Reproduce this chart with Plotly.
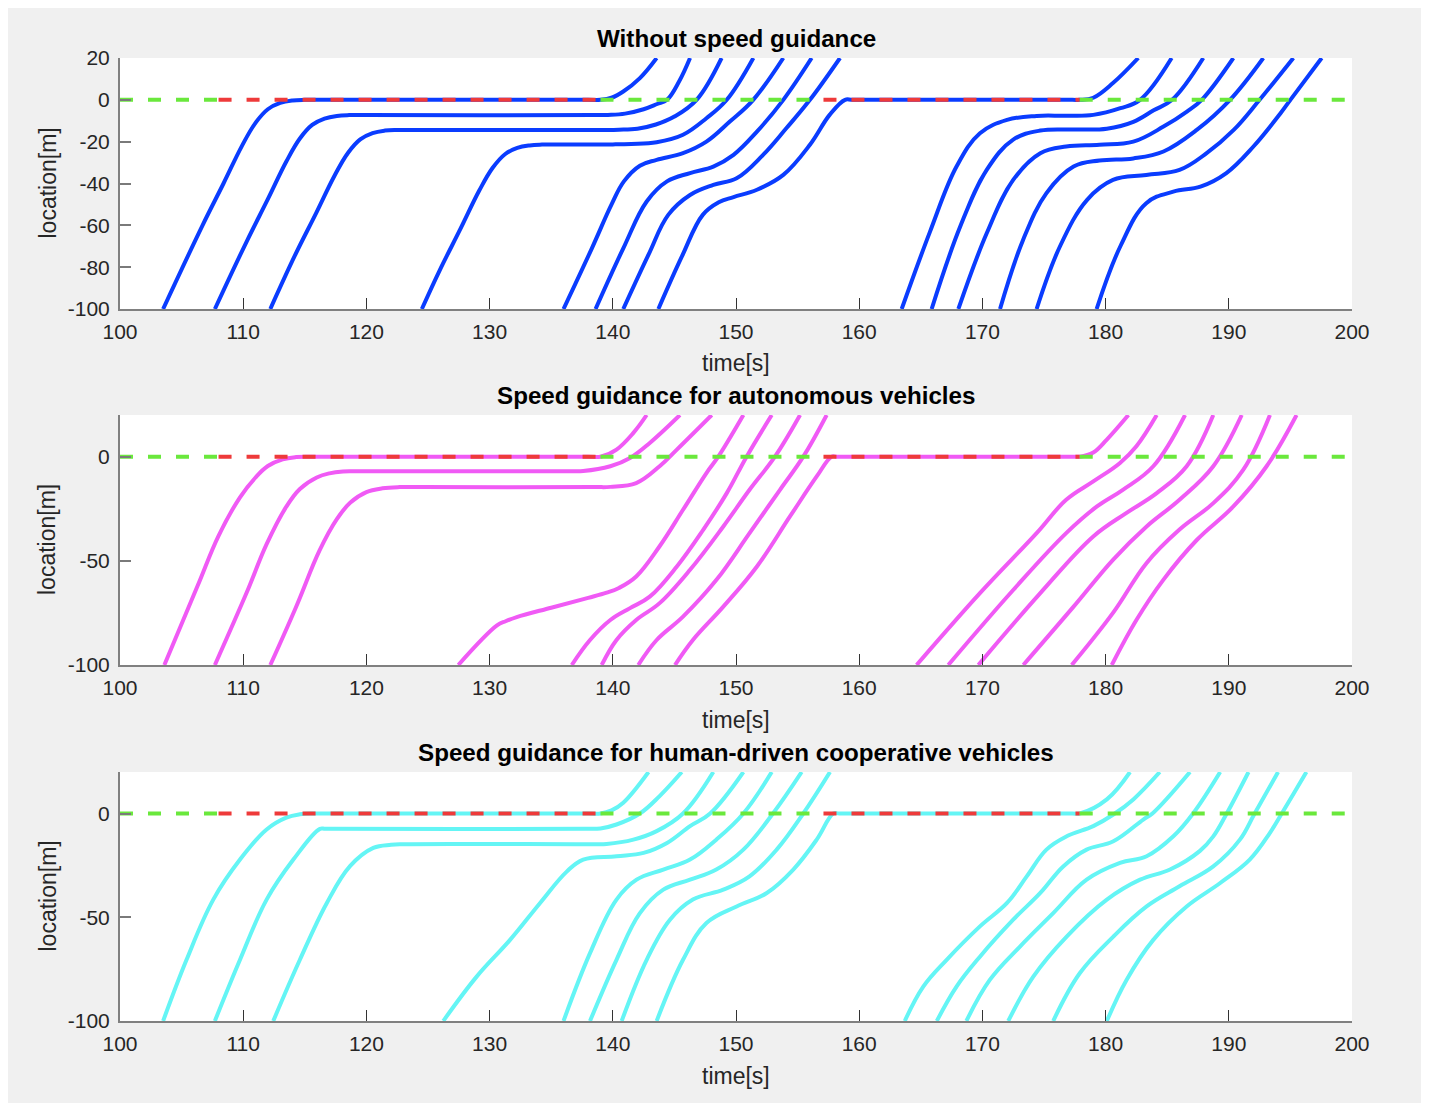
import plotly.graph_objects as go

# ---------------- data ----------------
X_TICKS = [100, 110, 120, 130, 140, 150, 160, 170, 180, 190, 200]
P1_Y_TICKS = [20, 0, -20, -40, -60, -80, -100]
P23_Y_TICKS = [0, -50, -100]

TITLES = ["Without speed guidance",
          "Speed guidance for autonomous vehicles",
          "Speed guidance for human-driven cooperative vehicles"]
X_LABEL = "time[s]"
Y_LABEL = "location[m]"

# signal phases at the stop line (location 0)
SIGNAL_SWITCH_T = [100, 108, 139, 157.1, 177.9, 200]
SIGNAL_PHASE = ["green", "red", "green", "red", "green"]

# vehicle trajectories: lists of (time, location)
BLUE_TRAJ = [
    [(103.5, -100), (106.7, -60), (108.4, -40), (109.9, -22), (111.0, -11), (112.0, -4.5), (113.0, -1.5),
     (114.0, -0.3), (115.0, 0), (116.0, 0), (138.0, 0), (139.0, 0), (139.9, 1), (140.85, 4), (142.2, 10.4), (143.56, 20)],
    [(107.7, -100), (110.3, -67.5), (112.0, -47.5), (113.5, -29.5), (114.6, -18.5), (115.6, -12), (116.6, -9),
     (117.6, -7.7), (118.6, -7.3), (120.0, -7.3), (138.5, -7.3), (139.6, -7.2), (141.0, -6.6), (142.5, -4.5),
     (143.6, -2), (144.4, 0), (145.4, 9), (146.27, 20)],
    [(112.2, -100), (114.2, -74.4), (115.9, -54.4), (117.4, -36.4), (118.5, -25.4), (119.5, -18.9), (120.5, -15.9),
     (121.5, -14.7), (122.5, -14.4), (124.0, -14.4), (139.0, -14.4), (140.5, -14.3), (142.0, -13.8), (143.5, -11.8),
     (145.0, -8), (146.8, 0), (148.83, 20)],
    [(124.5, -100), (125.95, -81.5), (127.65, -61.5), (129.15, -43.5), (130.25, -32.5), (131.25, -26), (132.25, -23),
     (133.25, -21.8), (134.25, -21.4), (136.0, -21.3), (140.0, -21.3), (141.5, -21.1), (143.56, -20.3),
     (145.7, -16.7), (147.6, -8.8), (149.25, 0), (151.41, 20)],
    [(136.0, -100), (138.3, -71), (139.9, -50), (140.9, -39), (142.2, -31.5), (143.56, -28.7), (145.7, -25.5),
     (147.6, -20), (149.5, -10.4), (151.4, 0), (153.84, 20)],
    [(138.6, -100), (140.85, -71), (142.75, -48.6), (144.4, -39), (146.27, -35), (148.16, -31.9), (149.8, -26.3),
     (151.7, -15.2), (153.84, 0), (156.14, 20)],
    [(140.85, -100), (142.9, -74), (144.5, -55), (146.27, -45.5), (148.16, -40.7), (150.05, -37.5), (152.2, -26.3),
     (154.1, -13.5), (156.0, 0), (158.44, 20)],
    [(143.7, -100), (145.6, -75), (147.3, -55), (148.6, -49), (149.8, -46.5), (151.7, -43), (153.84, -35.9),
     (156.0, -21.5), (157.6, -7.2), (158.85, 0), (159.5, 0), (177.3, 0), (177.9, 0), (179.0, 1), (180.6, 8),
     (182.65, 20)],
    [(163.45, -100), (165.75, -63), (167.9, -31.9), (169.8, -16), (172.0, -9.6), (174.4, -7.7), (176.8, -7.6),
     (179.0, -7.2), (181.2, -4), (182.8, 0), (185.36, 20)],
    [(165.88, -100), (168.2, -60.6), (170.35, -33.5), (172.5, -19), (174.7, -14.7), (177.4, -14.2), (180.1, -13.8),
     (182.25, -10.5), (183.9, -5), (185.4, 0), (187.93, 20)],
    [(168.05, -100), (170.35, -63.8), (172.5, -38.3), (174.7, -25.5), (176.8, -22.3), (179.5, -21.5), (182.25, -20),
     (184.7, -12.8), (186.6, -5.6), (187.8, 0), (190.37, 20)],
    [(171.43, -100), (173.3, -67), (175.2, -44.6), (177.4, -31.9), (179.5, -29), (182.25, -28), (184.7, -24.7),
     (187.4, -14.4), (190.1, 0), (192.8, 20)],
    [(174.4, -100), (176.3, -70), (178.5, -47.8), (180.6, -38.3), (183.3, -35.9), (186.0, -33.5), (188.2, -25.5),
     (190.4, -14.4), (192.5, 0), (195.24, 20)],
    [(179.27, -100), (181.2, -70), (183.3, -49.4), (185.5, -43.9), (187.7, -41.5), (189.8, -35), (192.0, -22.3),
     (194.2, -6.4), (195.0, 0), (197.54, 20)],
]

MAGENTA_TRAJ = [
    [(103.6, -100), (106.3, -62), (108.0, -38), (109.74, -19.5), (111.0, -10), (112.0, -4.5), (113.2, -1.3),
     (114.3, -0.2), (115.3, 0), (116.5, 0), (138.0, 0), (139.0, 0), (140.3, 3.4), (141.67, 11.4), (142.75, 20)],
    [(107.7, -100), (110.3, -65), (111.9, -42), (113.5, -24), (114.6, -15.5), (115.97, -10), (117.0, -8),
     (118.1, -7.1), (119.0, -7), (121.0, -7), (136.5, -7), (137.6, -6.9), (139.8, -4.6), (141.4, -0.6),
     (143.0, 6.6), (145.45, 20)],
    [(112.2, -100), (114.3, -72), (116.2, -45), (117.6, -30), (118.7, -22), (120.0, -17), (121.3, -15.2),
     (122.7, -14.6), (124.5, -14.6), (138.5, -14.6), (139.8, -14.5), (141.9, -12.7), (143.8, -4.6), (145.2, 3.4),
     (148.03, 20)],
    [(127.46, -100), (130.6, -81), (131.3, -79), (132.2, -77), (135.0, -72.5), (138.0, -67.8), (139.5, -65.3),
     (140.5, -63), (141.9, -57.5), (143.8, -43), (145.7, -25.5), (147.6, -7.85), (148.56, 0), (150.6, 20)],
    [(136.67, -100), (138.15, -88), (139.8, -78.4), (141.4, -72.7), (143.0, -67.2), (145.2, -52.7), (147.35, -35),
     (149.25, -17.5), (150.86, 0), (152.9, 20)],
    [(139.1, -100), (140.3, -88), (141.9, -78.4), (143.8, -70.3), (146.27, -54.3), (148.97, -33.5), (151.1, -15.9),
     (153.16, 0), (155.2, 20)],
    [(142.07, -100), (143.56, -88), (145.7, -76.8), (148.43, -59), (151.1, -36.7), (153.57, -15.9), (155.46, 0),
     (157.36, 20)],
    [(145.05, -100), (146.5, -88), (148.97, -72), (151.7, -52.7), (154.38, -28.7), (156.55, -9.5), (157.76, 0),
     (158.2, 0), (177.3, 0), (177.9, 0), (179.0, 2), (180.1, 8.2), (181.85, 20)],
    [(164.66, -100), (169.8, -65.5), (174.4, -36.7), (176.8, -20.7), (179.0, -11.9), (181.17, -3), (182.5, 5),
     (184.15, 20)],
    [(167.23, -100), (172.5, -64), (176.8, -36.7), (179.3, -23.9), (181.4, -15.9), (183.87, -4.6), (186.45, 20)],
    [(169.67, -100), (174.7, -65.5), (179.0, -38.3), (181.7, -27), (184.15, -17.5), (186.58, -4.6), (188.74, 20)],
    [(173.32, -100), (177.4, -72), (180.6, -49.5), (183.33, -33.5), (186.0, -20.7), (188.74, -4.6), (191.05, 20)],
    [(177.25, -100), (180.6, -75), (183.33, -51), (186.0, -35), (188.74, -22.3), (191.18, -6.25), (193.34, 20)],
    [(180.5, -100), (182.5, -78.4), (184.7, -59), (187.4, -40), (190.37, -23.9), (193.07, -4.6), (195.5, 20)],
]

CYAN_TRAJ = [
    [(103.5, -100), (105.4, -70.5), (107.57, -41.5), (109.74, -22.2), (111.9, -7.7), (113.5, -2), (114.6, -0.4),
     (115.7, 0), (117.0, 0), (138.0, 0), (139.0, 0), (139.9, 1.5), (140.85, 5.2), (142.9, 20)],
    [(107.7, -100), (109.74, -70.5), (111.9, -41.5), (114.07, -22.2), (116.23, -7.4), (116.7, -7.4), (137.8, -7.4),
     (139.0, -7.2), (140.3, -5.3), (142.2, 0), (143.8, 8.4), (145.6, 20)],
    [(112.44, -100), (114.6, -70.5), (116.8, -43), (118.67, -25.4), (120.56, -16.6), (122.0, -15.1), (123.0, -14.8),
     (138.3, -14.8), (139.5, -14.7), (141.67, -12.6), (143.56, -8.5), (145.7, 0), (148.16, 20)],
    [(126.24, -100), (128.95, -78.6), (131.66, -60.9), (134.1, -43.1), (136.26, -28), (137.6, -22.2), (140.3, -20.6),
     (142.5, -19), (144.4, -14.2), (146.27, -6.1), (147.9, 0), (150.6, 20)],
    [(136.0, -100), (138.15, -67.3), (140.3, -41.5), (141.93, -31.9), (144.1, -27), (146.27, -22.2), (148.4, -12.6),
     (150.6, 0), (152.9, 20)],
    [(138.15, -100), (140.3, -70.5), (142.2, -48), (144.1, -36.7), (146.27, -31.9), (148.4, -27), (150.6, -17.4),
     (153.0, 0), (155.33, 20)],
    [(140.72, -100), (142.75, -70.5), (144.64, -51.2), (146.5, -41.5), (148.97, -36.7), (151.1, -30.3),
     (153.3, -17.4), (155.46, 0), (157.63, 20)],
    [(143.56, -100), (145.7, -70.5), (147.6, -52.8), (150.05, -44.8), (152.5, -38.3), (154.65, -27), (156.55, -12.6),
     (157.9, 0), (158.4, 0), (177.3, 0), (177.9, 0), (180.1, 6.8), (181.98, 20)],
    [(163.7, -100), (165.2, -83.4), (167.1, -70.5), (169.8, -54.4), (172.0, -43.1), (173.6, -30.3), (175.2, -17.4),
     (176.84, -11), (179.0, -6.1), (180.63, -0.5), (182.25, 6.8), (184.4, 20)],
    [(166.3, -100), (167.9, -83.4), (169.8, -69), (172.5, -51.2), (174.7, -38.3), (176.56, -25.5), (178.46, -17.4),
     (180.63, -13.4), (183.06, -2.9), (183.8, 0), (186.85, 20)],
    [(168.7, -100), (170.6, -80.2), (173.05, -64.1), (175.75, -48), (178.46, -31.9), (181.17, -23.8),
     (183.33, -20.6), (185.5, -11), (187.1, 0), (189.3, 20)],
    [(172.1, -100), (174.13, -78.6), (176.84, -59.3), (180.1, -41.5), (182.8, -31.9), (185.23, -27), (187.66, -18),
     (188.74, -11), (189.83, 0), (191.6, 20)],
    [(175.75, -100), (177.9, -77), (180.63, -59.3), (183.33, -44.8), (186.0, -35.1), (188.74, -25.5), (190.9, -12.6),
     (192.1, 0), (194.0, 20)],
    [(180.1, -100), (181.7, -80.2), (183.87, -60.9), (186.58, -44.8), (189.3, -33.5), (191.7, -22.2), (193.34, -9.3),
     (194.3, 0), (196.3, 20)],
]

# ---------------- styling ----------------
# The page body has an 8 px margin, so the figure is 16 px smaller than the window
# and every reference pixel position is shifted by that offset.
OFF = 8
W, H = 1429 - 2 * OFF, 1111 - 2 * OFF
FONT = "Liberation Sans, Arial, Helvetica, sans-serif"
TXT = "#262626"
PANEL_COLORS = ["#0a3cff", "#f05af5", "#64f5f5"]
PHASE_COLORS = {"green": "#6ae83c", "red": "#ee3a3a"}
# plot rectangles in reference-window pixels: (top, bottom)
PX_LEFT, PX_RIGHT = 120, 1352
PANEL_PX = [(58, 309), (415, 665), (772, 1021)]
TITLE_Y_PX = [38, 395, 752]
XLABEL_Y_PX = [363, 720, 1076]
YLABEL_X_PX = 47


def fx(px):
    return (px - OFF) / W


def fy(py):
    return 1 - (py - OFF) / H


fig = go.Figure()
panels = [BLUE_TRAJ, MAGENTA_TRAJ, CYAN_TRAJ]
for i, trajs in enumerate(panels):
    sfx = "" if i == 0 else str(i + 1)
    for tr in trajs:
        fig.add_trace(go.Scatter(
            x=[p[0] for p in tr], y=[p[1] for p in tr], mode="lines",
            line=dict(color=PANEL_COLORS[i], width=4, shape="spline", smoothing=1.1),
            xaxis="x" + sfx, yaxis="y" + sfx, showlegend=False, hoverinfo="skip"))
    for k, ph in enumerate(SIGNAL_PHASE):
        fig.add_trace(go.Scatter(
            x=[SIGNAL_SWITCH_T[k], SIGNAL_SWITCH_T[k + 1]], y=[0, 0], mode="lines",
            line=dict(color=PHASE_COLORS[ph], width=4, dash="13px,15px"),
            xaxis="x" + sfx, yaxis="y" + sfx, showlegend=False, hoverinfo="skip"))

layout = dict(
    template="none",
    width=W, height=H, margin=dict(l=0, r=0, t=0, b=0, autoexpand=False),
    paper_bgcolor="#f0f0f0", plot_bgcolor="#ffffff",
    font=dict(family=FONT, size=21, color=TXT),
    showlegend=False,
)
annotations = []
for i in range(3):
    sfx = "" if i == 0 else str(i + 1)
    top, bot = PANEL_PX[i]
    layout["xaxis" + sfx] = dict(
        domain=[fx(PX_LEFT), fx(PX_RIGHT)], range=[100, 200], anchor="y" + sfx,
        tickvals=X_TICKS, ticktext=[str(v) for v in X_TICKS], automargin=False,
        ticks="inside", ticklen=11, tickwidth=1.3, tickcolor="#333333",
        showline=True, linecolor="#808080", linewidth=2, showgrid=False, zeroline=False,
        tickfont=dict(size=21, color=TXT), ticklabelstandoff=3, fixedrange=True)
    yt = P1_Y_TICKS if i == 0 else P23_Y_TICKS
    layout["yaxis" + sfx] = dict(
        domain=[fy(bot), fy(top)], range=[-100, 20], anchor="x" + sfx,
        tickvals=yt, ticktext=[str(v) for v in yt], automargin=False,
        ticks="inside", ticklen=11, tickwidth=2, tickcolor="#7a7a7a",
        showline=True, linecolor="#808080", linewidth=2, showgrid=False, zeroline=False,
        tickfont=dict(size=21, color=TXT), ticklabelstandoff=4, fixedrange=True)
    annotations.append(dict(
        text="<b>" + TITLES[i] + "</b>", xref="paper", yref="paper",
        x=fx((PX_LEFT + PX_RIGHT) / 2), y=fy(TITLE_Y_PX[i]), xanchor="center", yanchor="middle",
        showarrow=False, font=dict(size=24.2, color="#000000", family=FONT)))
    annotations.append(dict(
        text=X_LABEL, xref="paper", yref="paper",
        x=fx((PX_LEFT + PX_RIGHT) / 2), y=fy(XLABEL_Y_PX[i]), xanchor="center", yanchor="middle",
        showarrow=False, font=dict(size=23, color=TXT, family=FONT)))
    annotations.append(dict(
        text=Y_LABEL, xref="paper", yref="paper", textangle=-90,
        x=fx(YLABEL_X_PX), y=fy((top + bot) / 2), xanchor="center", yanchor="middle",
        showarrow=False, font=dict(size=23, color=TXT, family=FONT)))
layout["annotations"] = annotations
fig.update_layout(**layout)
fig.write_html("out.html")
